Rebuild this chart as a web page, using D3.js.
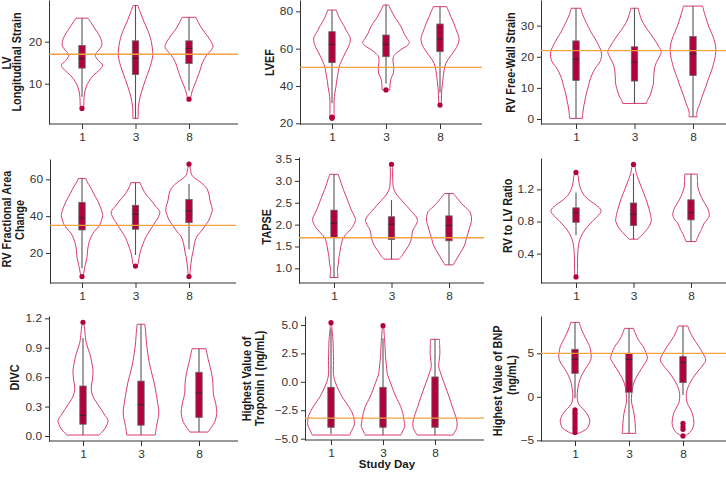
<!DOCTYPE html>
<html><head><meta charset="utf-8">
<script src="https://cdn.jsdelivr.net/npm/d3@7"></script>
<style>body{margin:0;background:#fff}svg{display:block}text{font-family:'Liberation Sans',Arial,Helvetica,sans-serif}</style>
</head><body><svg id="c" width="726" height="477"></svg>
<script>
// ---------- DATA ----------
const days = ["1", "3", "8"];
const metricLabels = [
  ["LV", "Longitudinal Strain"], ["LVEF"], ["RV Free-Wall Strain"],
  ["RV Fractional Area", "Change"], ["TAPSE"], ["RV to LV Ratio"],
  ["DIVC"], ["Highest Value of", "Troponin I (ng/mL)"], ["Highest Value of BNP", "(ng/mL)"]
];
const referenceValues = [17, 50, 22, 35, 1.7, null, null, -3.2, 5];
const yTickValues = [
  [10, 20], [20, 40, 60, 80], [0, 10, 20, 30],
  [20, 40, 60], [1.0, 1.5, 2.0, 2.5, 3.0, 3.5], [0.4, 0.8, 1.2],
  [0, 0.3, 0.6, 0.9, 1.2], [-5, -2.5, 0, 2.5, 5], [-5, 0, 5]
];
const yTickFormats = ["d", "d", "d", "d", ".1f", ".1f", ".1f", ".1f", "d"];
const yDomains = [
  [0.4, 29.92], [19.64, 86.07], [-1.61, 38.25],
  [3.71, 71.04], [0.665, 3.546], [0.035, 1.59],
  [-0.051, 1.224], [-5.117, 5.79], [-5.08, 9.29]
];
const xTitle = "Study Day";

// density profiles [value, relative half-width] per study day
const densLVGLS = [
  [[25.6,0.25],[24.5,0.38],[23,0.55],[21.5,0.72],[20,0.82],[19,0.82],[18,0.7],[16.8,0.55],[15.5,0.68],[14.4,0.86],[13.2,0.72],[12,0.48],[10.5,0.28],[9,0.16],[7.5,0.1],[6,0.08],[4.5,0.07],[3.9,0.04]],
  [[28.6,0.1],[27,0.2],[25.2,0.32],[23.5,0.45],[22,0.56],[20,0.66],[18,0.71],[16.8,0.72],[15,0.66],[13.2,0.56],[11,0.42],[9.3,0.32],[7,0.2],[4.5,0.12],[3,0.11],[1.75,0.11]],
  [[25.8,0.28],[24.5,0.4],[23,0.55],[21.5,0.75],[20,0.92],[18.8,1.0],[17.8,0.9],[16.8,0.74],[15,0.56],[13.2,0.46],[11,0.32],[9.3,0.2],[8,0.12],[6.9,0.08],[6.3,0.04]]
];
const densLVEF = [
  [[80.7,0.18],[78,0.26],[75.4,0.36],[72.5,0.5],[70,0.6],[67.5,0.72],[65.2,0.79],[62,0.74],[59.3,0.64],[56,0.5],[53,0.39],[50,0.3],[46.8,0.26],[43,0.2],[39.6,0.17],[36,0.12],[32.5,0.09],[28,0.09],[25.4,0.09],[22.7,0.1]],
  [[83.4,0.11],[81,0.2],[78.9,0.29],[76,0.42],[73.6,0.56],[71,0.68],[68.2,0.77],[65.5,0.9],[63.2,1.0],[61.5,0.9],[60.2,0.73],[58,0.48],[55.7,0.32],[53,0.3],[50.4,0.33],[47,0.32],[45,0.25],[43.2,0.2],[40,0.17],[38,0.17]],
  [[82.5,0.29],[80,0.37],[77.1,0.47],[74,0.58],[70.9,0.67],[68,0.76],[65.2,0.82],[62,0.76],[59.3,0.64],[56,0.45],[52.1,0.25],[48,0.17],[45,0.14],[41,0.1],[37,0.07],[32.5,0.06],[30,0.05]]
];
const densRVFWS = [
  [[35.6,0.18],[33.5,0.25],[31.8,0.34],[29.5,0.47],[27.5,0.59],[26,0.7],[24.3,0.81],[22.5,0.91],[20.6,0.96],[18.4,0.9],[16.8,0.76],[15.2,0.65],[13,0.54],[10.4,0.46],[8,0.38],[6.1,0.34],[4.5,0.3],[2.9,0.27],[1.5,0.25],[0.2,0.24]],
  [[35.6,0.14],[33.5,0.2],[31.8,0.27],[29.5,0.42],[27.5,0.59],[26,0.71],[24.3,0.84],[23,0.93],[21.6,1.0],[20.3,0.95],[19,0.87],[17.3,0.78],[15.7,0.74],[13.5,0.72],[11.5,0.71],[9.5,0.65],[7.7,0.59],[6.3,0.5],[5,0.44]],
  [[36.3,0.36],[34,0.43],[31.8,0.51],[29.5,0.6],[27.5,0.7],[25.5,0.79],[23.2,0.85],[21.3,0.85],[19.5,0.82],[17.5,0.76],[15.7,0.7],[13,0.58],[10.4,0.48],[7.7,0.36],[5,0.26],[3.3,0.18],[1.8,0.14],[0.7,0.15]]
];
const densRVFAC = [
  [[60.5,0.15],[58,0.24],[56,0.34],[53,0.45],[50.6,0.55],[48,0.66],[45.2,0.75],[42.5,0.82],[40.3,0.85],[37.8,0.8],[35.2,0.73],[33,0.6],[30.7,0.45],[28,0.35],[25.2,0.28],[21.5,0.23],[18,0.21],[15,0.16],[12.6,0.12],[9,0.07],[7.2,0.04]],
  [[58.2,0.19],[56,0.25],[54.2,0.32],[51.5,0.45],[48.8,0.63],[45.5,0.82],[42.4,1.0],[39.7,0.95],[37,0.82],[34,0.68],[30.7,0.52],[28,0.4],[25.2,0.32],[22.5,0.24],[19.8,0.18],[17,0.14],[14.4,0.11],[12.9,0.06]],
  [[68.3,0.03],[66,0.05],[64,0.08],[62.4,0.11],[60.5,0.25],[58.7,0.45],[57,0.6],[55.1,0.73],[52,0.82],[48.8,0.86],[46,0.92],[43.3,0.96],[40.5,0.9],[37.9,0.82],[35.5,0.7],[33.4,0.59],[31,0.45],[28.9,0.32],[25,0.22],[21.6,0.18],[18,0.12],[14.4,0.08],[10.5,0.05],[7.2,0.03]]
];
const densTAPSE = [
  [[3.15,0.16],[3.05,0.22],[2.94,0.28],[2.8,0.36],[2.64,0.47],[2.5,0.56],[2.33,0.67],[2.2,0.78],[2.12,0.83],[2.0,0.76],[1.91,0.67],[1.8,0.5],[1.69,0.35],[1.55,0.28],[1.42,0.24],[1.25,0.19],[1.11,0.17],[0.95,0.13],[0.79,0.16]],
  [[3.38,0.03],[3.3,0.05],[3.2,0.04],[3.02,0.05],[2.85,0.07],[2.7,0.18],[2.56,0.38],[2.43,0.58],[2.3,0.77],[2.2,0.92],[2.1,1.0],[1.98,0.93],[1.88,0.83],[1.78,0.79],[1.69,0.77],[1.6,0.72],[1.5,0.64],[1.38,0.5],[1.27,0.38],[1.21,0.29]],
  [[2.71,0.17],[2.6,0.32],[2.49,0.47],[2.4,0.62],[2.3,0.8],[2.18,0.86],[2.07,0.86],[1.95,0.8],[1.8,0.73],[1.67,0.66],[1.53,0.6],[1.4,0.48],[1.27,0.35],[1.17,0.25],[1.08,0.16]]
];
const densRVLV = [
  [[1.41,0.04],[1.36,0.09],[1.3,0.11],[1.23,0.16],[1.15,0.27],[1.1,0.4],[1.05,0.6],[1.0,0.82],[0.94,1.0],[0.9,0.96],[0.86,0.84],[0.8,0.65],[0.74,0.47],[0.67,0.3],[0.59,0.17],[0.5,0.1],[0.4,0.07],[0.3,0.06],[0.2,0.06],[0.11,0.05]],
  [[1.51,0.04],[1.45,0.08],[1.4,0.11],[1.32,0.2],[1.23,0.31],[1.15,0.41],[1.07,0.51],[0.98,0.6],[0.9,0.67],[0.8,0.71],[0.74,0.62],[0.69,0.51],[0.63,0.33],[0.58,0.17]],
  [[1.39,0.25],[1.3,0.26],[1.23,0.27],[1.15,0.35],[1.07,0.47],[1.0,0.6],[0.96,0.67],[0.88,0.73],[0.82,0.64],[0.78,0.53],[0.7,0.42],[0.65,0.33],[0.6,0.26],[0.55,0.2]]
];
const densDIVC = [
  [[1.16,0.03],[1.1,0.06],[1.05,0.08],[0.95,0.13],[0.84,0.27],[0.75,0.35],[0.67,0.4],[0.58,0.38],[0.5,0.33],[0.43,0.36],[0.37,0.47],[0.32,0.6],[0.27,0.73],[0.21,0.88],[0.16,1.0],[0.1,0.93],[0.05,0.8],[0.01,0.64]],
  [[1.14,0.15],[1.08,0.18],[1.01,0.2],[0.92,0.23],[0.84,0.27],[0.75,0.33],[0.67,0.4],[0.6,0.47],[0.54,0.53],[0.47,0.58],[0.4,0.63],[0.33,0.67],[0.27,0.71],[0.2,0.7],[0.16,0.67],[0.1,0.62],[0.01,0.57]],
  [[0.89,0.28],[0.84,0.32],[0.78,0.37],[0.7,0.45],[0.6,0.53],[0.52,0.56],[0.44,0.57],[0.38,0.62],[0.33,0.67],[0.28,0.7],[0.23,0.71],[0.15,0.64],[0.09,0.5],[0.04,0.36]]
];
const densTrop = [
  [[5.2,0.03],[4.6,0.04],[4,0.07],[3.4,0.09],[2.5,0.1],[1.9,0.11],[1,0.1],[0.45,0.12],[0,0.18],[-0.43,0.26],[-0.9,0.37],[-1.3,0.47],[-1.75,0.62],[-2.18,0.76],[-2.6,0.88],[-3.06,0.97],[-3.5,1.0],[-3.8,1.0],[-4.24,0.9],[-4.68,0.8]],
  [[4.94,0.03],[4.5,0.04],[3.9,0.06],[3.4,0.08],[2.5,0.1],[1.9,0.12],[1.2,0.16],[0.75,0.18],[0.3,0.25],[-0.13,0.33],[-0.7,0.43],[-1.3,0.55],[-1.75,0.66],[-2.18,0.76],[-2.8,0.85],[-3.36,0.9],[-3.94,0.93],[-4.3,0.85],[-4.68,0.77]],
  [[3.74,0.19],[3.2,0.2],[2.51,0.21],[1.9,0.18],[1.33,0.16],[0.9,0.22],[0.45,0.29],[-0.1,0.39],[-0.72,0.5],[-1.4,0.62],[-2.18,0.74],[-2.8,0.85],[-3.36,0.93],[-3.7,0.95],[-4.09,0.93],[-4.4,0.85],[-4.68,0.77]]
];
const densBNP = [
  [[8.56,0.19],[8.1,0.24],[7.68,0.3],[7.2,0.38],[6.72,0.47],[6.2,0.57],[5.77,0.65],[5.1,0.7],[4.43,0.71],[3.85,0.62],[3.28,0.47],[2.6,0.32],[1.93,0.21],[1.2,0.14],[0.4,0.1],[-0.2,0.1],[-0.75,0.15],[-1.1,0.24],[-1.51,0.4],[-2.1,0.56],[-2.66,0.65],[-3.1,0.63],[-3.62,0.54],[-3.95,0.35],[-4.2,0.15]],
  [[7.87,0.2],[7.4,0.26],[6.92,0.34],[6.35,0.46],[5.77,0.63],[5.1,0.74],[4.43,0.81],[3.85,0.7],[3.28,0.56],[2.6,0.4],[1.93,0.26],[1.2,0.17],[0.4,0.12],[-0.2,0.11],[-0.75,0.12],[-1.3,0.17],[-1.9,0.22],[-2.5,0.25],[-3.05,0.27],[-3.6,0.28],[-4.2,0.3]],
  [[8.14,0.21],[7.5,0.3],[6.92,0.41],[6.35,0.55],[5.77,0.7],[5.0,0.88],[4.23,1.0],[3.65,0.88],[3.08,0.7],[2.4,0.5],[1.74,0.34],[1.1,0.22],[0.4,0.15],[-0.2,0.15],[-0.75,0.19],[-1.3,0.3],[-1.9,0.41],[-2.5,0.46],[-3.05,0.48],[-3.5,0.44],[-4.0,0.34],[-4.3,0.2],[-4.5,0.06]]
];

// box stats per day: [lower whisker, Q1, median, Q3, upper whisker]
const boxLVGLS = [[6.9,13.7,16.0,19.1,25.6],[1.75,12.2,16.0,20.2,28.6],[8.3,14.8,18.4,20.2,25.8]];
const boxLVEF  = [[30.7,52.5,62.3,69.1,80.7],[41.4,55.7,62.3,67.3,83.4],[36.4,58.4,65.2,73.2,82.5]];
const boxRVFWS = [[0.2,12.4,19.2,25.1,35.6],[5,12.2,18.3,23.2,35.6],[0.7,14,20.9,26.5,36.3]];
const boxRVFAC = [[11.7,32.5,39,47.5,60.5],[18.9,32.9,41,45.9,58.2],[22,36.5,42.8,49.1,57.5]];
const boxTAPSE = [[0.79,1.71,2.03,2.33,3.15],[1.21,1.66,2.01,2.18,2.56],[1.08,1.63,1.98,2.2,2.71]];
const boxRVLV  = [[0.63,0.79,0.91,0.97,1.16],[0.58,0.75,0.89,1.03,1.4],[0.55,0.82,0.91,1.07,1.39]];
const boxDIVC  = [[0.01,0.12,0.21,0.51,1.0],[0.01,0.11,0.32,0.56,1.14],[0.04,0.19,0.44,0.65,0.89]];
const boxTrop  = [[-4.59,-4.0,-3.24,-0.48,4.7],[-4.68,-4.0,-3.24,-0.48,3.83],[-4.68,-4.0,-3.24,0.43,3.74]];
const boxBNP   = [[-0.17,2.7,4.31,5.46,8.56],[-4.2,0.52,4.31,5.0,7.87],[0.21,1.63,3.93,4.62,8.14]];

// outliers per day
const outLVGLS = [[4.1],[],[6.3]];
const outLVEF  = [[22.7,23.3],[37.9],[29.8]];
const outRVFWS = [[],[],[]];
const outRVFAC = [[7.2],[12.9],[68.3,7.2]];
const outTAPSE = [[],[3.38],[]];
const outRVLV  = [[1.41,0.11],[1.51],[]];
const outDIVC  = [[1.16],[],[]];
const outTrop  = [[5.2],[4.94],[]];
const outBNP   = [[-1.5,-1.75,-2.0,-2.3,-2.6,-2.9,-3.2,-3.5,-3.8,-4.1],[],[-3.05,-3.43,-3.74,-4.5]];

const densities = [densLVGLS, densLVEF, densRVFWS, densRVFAC, densTAPSE, densRVLV, densDIVC, densTrop, densBNP];
const boxes = [boxLVGLS, boxLVEF, boxRVFWS, boxRVFAC, boxTAPSE, boxRVLV, boxDIVC, boxTrop, boxBNP];
const outliers = [outLVGLS, outLVEF, outRVFWS, outRVFAC, outTAPSE, outRVLV, outDIVC, outTrop, outBNP];

// ---------- LAYOUT ----------
const panels = [
  {left:49,  right:238, top:0,   bottom:124, cx:[82,189],  half:24,   lab:[[11.3,63],[20.6,62]]},
  {left:300, right:482, top:0,   bottom:124, cx:[332,440], half:23.3, lab:[[273.5,62.5]]},
  {left:541, right:726, top:0,   bottom:124, cx:[576,693], half:26.7, lab:[[515.3,62.5]]},
  {left:50,  right:236, top:159, bottom:283, cx:[82,189],  half:24.3, lab:[[11,219],[24,220]]},
  {left:299, right:484, top:157, bottom:283, cx:[334,449], half:26,   lab:[[271,226.7]]},
  {left:541, right:726, top:158, bottom:283, cx:[576,691], half:25,   lab:[[512,215.8]]},
  {left:49,  right:238, top:316, bottom:441, cx:[83,199],  half:25,   lab:[[19.3,377.5]]},
  {left:305, right:484, top:316, bottom:440, cx:[331,435], half:23.3, lab:[[251.3,379],[264.3,378.3]]},
  {left:541, right:726, top:316, bottom:441, cx:[575,683], half:22.7, lab:[[502,380.8],[515.5,375]]}
];
const sx = 1.1;
const violinColor = "#d93a6f", boxColor = "#b3003f", refColor = "#f4a140", axisColor = "#333";

const svg = d3.select("#c");

panels.forEach((p, i) => {
  const g = svg.append("g");
  const y = d3.scaleLinear().domain(yDomains[i]).range([p.bottom, p.top]);
  const x = d3.scalePoint().domain(days).range(p.cx);
  const w = d3.scaleLinear().domain([0, 1]).range([0, p.half]);

  // violins
  densities[i].forEach((dens, j) => {
    const cx = x(days[j]);
    const area = d3.area()
      .y(d => y(d[0]))
      .x0(d => cx - w(d[1]))
      .x1(d => cx + w(d[1]))
      .curve(d3.curveCatmullRom);
    g.append("path").attr("d", area(dens))
      .attr("fill", "#fff").attr("stroke", violinColor).attr("stroke-width", 1);
  });

  // boxes
  boxes[i].forEach((b, j) => {
    const cx = x(days[j]);
    g.append("line").attr("x1", cx).attr("x2", cx)
      .attr("y1", y(b[0])).attr("y2", y(b[4]))
      .attr("stroke", "#555").attr("stroke-width", 1.1);
    g.append("rect").attr("x", cx - 3.2).attr("width", 6.4)
      .attr("y", y(b[3])).attr("height", y(b[1]) - y(b[3]))
      .attr("fill", boxColor).attr("stroke", "#666").attr("stroke-width", 0.8);
    g.append("line").attr("x1", cx - 3.2).attr("x2", cx + 3.2)
      .attr("y1", y(b[2])).attr("y2", y(b[2]))
      .attr("stroke", "#2a2a2a").attr("stroke-width", 0.9);
  });

  // outliers
  outliers[i].forEach((arr, j) => {
    const cx = x(days[j]);
    arr.forEach(v => {
      g.append("circle").attr("cx", cx).attr("cy", y(v)).attr("r", 2.6).attr("fill", boxColor);
    });
  });

  // y axis
  const ya = g.append("g").attr("transform", `translate(${p.left},0)`)
    .call(d3.axisLeft(y).tickValues(yTickValues[i]).tickFormat(d3.format(yTickFormats[i]))
      .tickSize(4).tickPadding(3).tickSizeOuter(0));
  // x axis
  const xa = g.append("g").attr("transform", `translate(0,${p.bottom})`)
    .call(d3.axisBottom(x).tickSize(5).tickPadding(4).tickSizeOuter(0));
  xa.select(".domain").remove();
  g.append("line").attr("x1", p.left).attr("x2", p.right).attr("y1", p.bottom).attr("y2", p.bottom)
    .attr("stroke", axisColor).attr("stroke-width", 1);

  [ya, xa].forEach(a => {
    a.selectAll("path,line").attr("stroke", axisColor);
    a.selectAll("text").attr("fill", "#333").attr("font-size", 10.8)
      .attr("font-family", "'Liberation Sans',Arial,sans-serif")
      .each(function() {
        const t = d3.select(this);
        const tx = +t.attr("x") || 0, ty = +t.attr("y") || 0;
        t.attr("transform", `translate(${tx},${ty}) scale(${sx},1)`).attr("x", 0).attr("y", 0);
      });
  });

  // reference line
  if (referenceValues[i] !== null) {
    g.append("line").attr("x1", p.left).attr("x2", p.right)
      .attr("y1", y(referenceValues[i])).attr("y2", y(referenceValues[i]))
      .attr("stroke", refColor).attr("stroke-width", 1.3);
  }

  // metric label
  metricLabels[i].forEach((txt, k) => {
    const [lx, ly] = p.lab[k];
    svg.append("text")
      .attr("transform", `translate(${lx},${ly}) scale(${sx + 0.05},1) rotate(-90)`)
      .attr("text-anchor", "middle").attr("font-weight", "bold")
      .attr("font-size", 10.9).attr("fill", "#1a1a1a").text(txt);
  });
});

svg.append("text")
  .attr("transform", `translate(387,468) scale(${sx},1)`)
  .attr("text-anchor", "middle").attr("font-weight", "bold")
  .attr("font-size", 10.5).attr("fill", "#1a1a1a").text(xTitle);
</script>
</body></html>
